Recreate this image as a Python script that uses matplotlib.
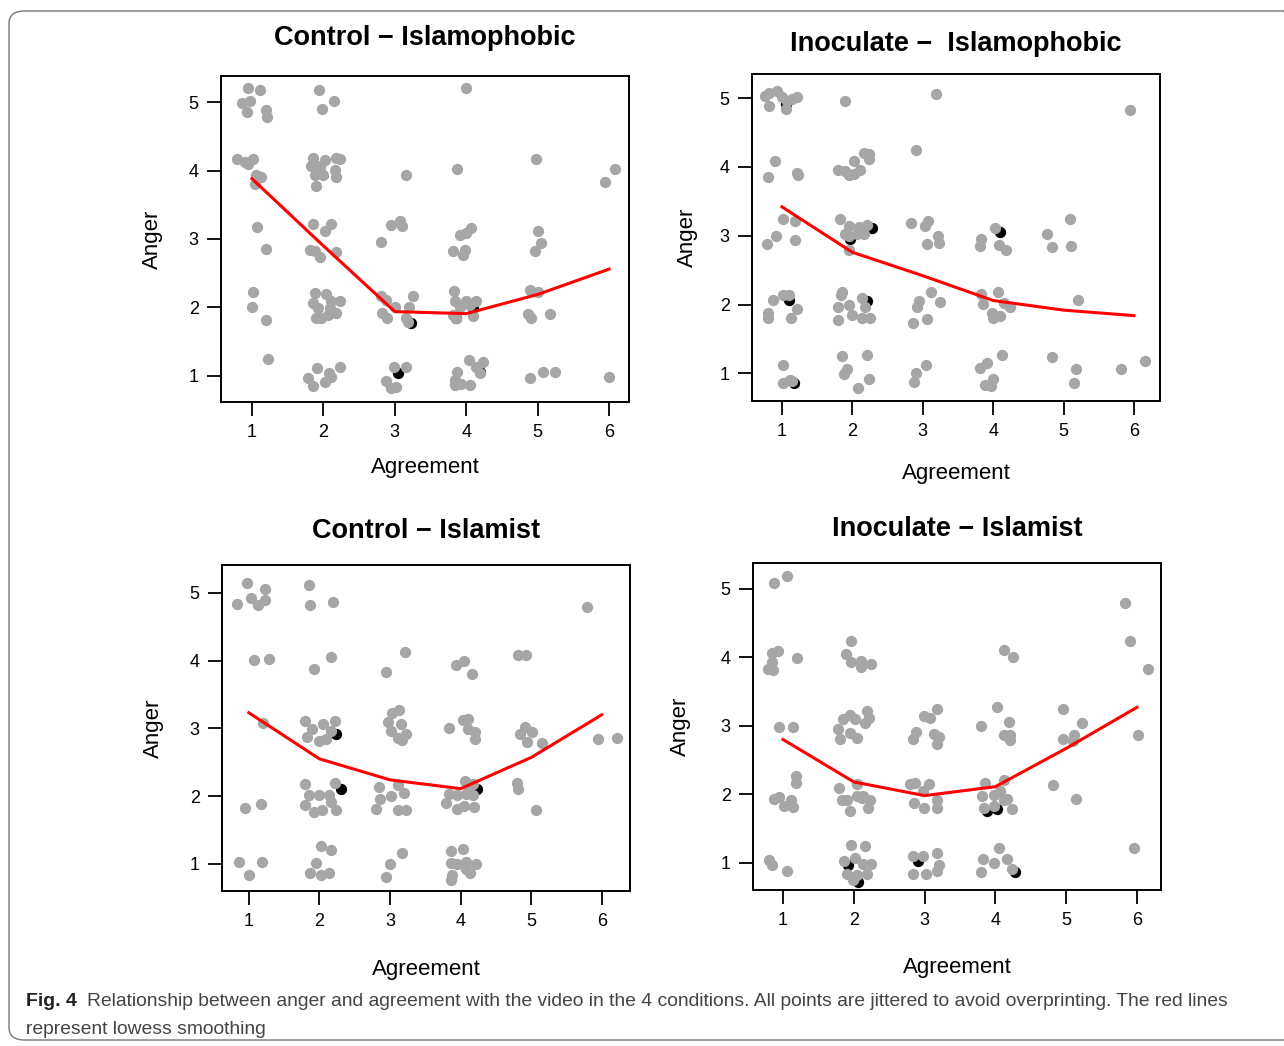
import matplotlib
matplotlib.use("Agg")
import matplotlib.pyplot as plt
from matplotlib.patches import FancyBboxPatch

plt.rcParams['font.family'] = ['Liberation Sans', 'DejaVu Sans']

W, H = 1284, 1046

levels = [1, 2, 3, 4, 5, 6]

# Control - Islamophobic
p1_x = [0.944, 1.117, 0.865, 0.967, 0.935, 1.19, 1.215, 0.79, 0.897, 1.014, 0.944, 1.06, 1.13, 1.04,
        1.075, 1.20, 1.02, 1.0, 1.19, 1.22,
        1.934, 2.144, 1.98, 1.854, 2.018, 2.18, 2.228, 1.83, 1.948, 1.878, 1.994, 2.158, 2.18, 1.89, 1.95,
        1.854, 2.11, 2.018, 1.81, 1.878, 1.948, 2.17,
        1.878, 2.04, 1.854, 2.11, 2.228, 1.924, 2.088, 1.90, 1.97, 2.064, 2.18,
        1.91, 2.08, 2.228, 1.784, 1.854, 2.018, 2.11,
        3.152, 2.95, 3.07, 3.10, 2.80, 2.81, 2.88, 3.0, 3.255, 3.20, 2.825, 2.89, 3.16, 3.185,
        2.985, 3.16, 2.87, 2.94, 3.02,
        4.0, 3.876, 3.91, 4.0, 4.07, 3.815, 3.98, 3.955, 3.83, 3.84, 4.0, 4.14, 3.91, 3.815, 3.86,
        4.095, 4.05, 4.04, 4.235, 4.14, 3.876, 4.19, 3.84, 3.93, 4.05, 3.84,
        4.98, 5.0, 5.05, 4.96, 4.89, 5.0, 4.865, 4.91, 5.18, 4.90, 5.075, 5.25,
        6.08, 5.94, 6.0]
p1_y = [5.20, 5.18, 4.985, 5.01, 4.85, 4.88, 4.78, 4.17, 4.13, 4.17, 4.10, 3.94, 3.91, 3.80,
        3.18, 2.85, 2.22, 2.01, 1.81, 1.25,
        5.18, 5.02, 4.90, 4.18, 4.16, 4.18, 4.17, 4.06, 4.06, 3.94, 3.94, 4.01, 3.90, 3.78, 4.01,
        3.22, 3.22, 3.11, 2.84, 2.82, 2.74, 2.81,
        2.21, 2.20, 2.07, 2.09, 2.10, 1.99, 1.99, 1.85, 1.85, 1.89, 1.92,
        1.11, 1.05, 1.13, 0.965, 0.853, 0.916, 0.98,
        3.93, 3.21, 3.26, 3.19, 2.96, 2.17, 2.11, 2.0, 2.17, 2.01, 1.92, 1.84, 1.84, 1.79,
        1.135, 1.135, 0.93, 0.83, 0.84,
        5.21, 4.02, 3.06, 3.085, 3.16, 2.83, 2.84, 2.77, 2.24, 2.09, 2.09, 2.09, 2.0, 1.89, 1.85,
        1.87, 2.04, 1.23, 1.21, 1.13, 1.06, 1.04, 0.94, 0.89, 0.87, 0.87,
        4.17, 3.11, 2.94, 2.83, 2.25, 2.23, 1.91, 1.84, 1.90, 0.965, 1.06, 1.06,
        4.02, 3.83, 0.99]
p1_bx = [3.22, 3.05, 4.095, 3.86, 4.19]
p1_by = [1.77, 1.05, 1.99, 1.85, 1.06]
p1_fit = [3.88, 2.90, 1.94, 1.91, 2.19, 2.56]

# Inoculate - Islamophobic
p2_x = [0.81, 0.93, 0.76, 1.0, 1.07, 1.21, 1.14, 0.82, 1.06,
        0.905, 0.80, 1.21, 1.23, 1.02, 1.19, 0.92, 1.18, 0.79,
        1.01, 1.095, 0.87, 1.22, 0.80, 0.80, 1.13, 1.01, 1.12, 1.02, 1.14,
        1.89, 1.80, 1.90, 1.95, 2.03, 2.11, 2.03, 2.16, 2.23, 2.24,
        1.83, 1.95, 2.09, 2.21, 1.90, 1.95, 2.06, 2.16, 1.95,
        1.85, 1.84, 1.795, 1.95, 2.135, 2.18, 1.99, 2.135, 2.25, 1.795,
        1.85, 2.21, 1.93, 1.875, 2.24, 2.08,
        3.185, 2.91, 2.83, 3.03, 3.08, 3.21, 3.23, 3.06, 3.12, 2.95, 2.915, 3.24, 3.06, 2.86,
        3.05, 2.91, 2.88,
        3.83, 3.81, 4.03, 4.08, 4.18, 3.83, 4.065, 3.86, 4.16, 4.24, 3.98, 4.03, 4.10, 4.0,
        4.12, 3.91, 3.815, 4.0, 3.88, 3.97,
        4.77, 5.09, 4.84, 5.105, 5.21, 4.84, 5.17, 5.15,
        5.95, 5.81, 6.15]
p2_y = [5.08, 5.10, 5.03, 5.01, 4.96, 5.02, 4.99, 4.88, 4.84,
        4.09, 3.86, 3.91, 3.88, 3.24, 3.21, 3.0, 2.94, 2.88,
        2.14, 2.14, 2.06, 1.93, 1.88, 1.80, 1.80, 1.13, 0.91, 0.855, 0.89,
        4.96, 3.95, 3.94, 3.88, 3.90, 3.96, 4.08, 4.20, 4.19, 4.11,
        3.24, 3.14, 3.13, 3.16, 3.03, 3.0, 3.03, 3.03, 2.80,
        2.19, 2.14, 1.96, 2.0, 2.10, 1.97, 1.85, 1.80, 1.81, 1.77,
        1.26, 1.27, 1.06, 0.99, 0.92, 0.79,
        5.06, 4.25, 3.18, 3.14, 3.21, 3.0, 2.89, 2.875, 2.18, 2.05, 1.96, 2.04, 1.79, 1.73,
        1.13, 1.0, 0.875,
        2.95, 2.85, 3.11, 2.865, 2.79, 2.15, 2.18, 2.01, 2.03, 1.96, 1.88, 1.83, 1.84, 1.80,
        1.265, 1.155, 1.08, 0.92, 0.83, 0.82,
        3.02, 3.24, 2.84, 2.855, 2.07, 1.24, 1.07, 0.86,
        4.82, 1.06, 1.18]
p2_bx = [1.06, 1.095, 1.165, 1.97, 2.28, 2.21, 4.10]
p2_by = [4.92, 2.07, 0.855, 2.95, 3.11, 2.05, 3.06]
p2_fit = [3.42, 2.76, 2.42, 2.06, 1.92, 1.84]

# Control - Islamist
p3_x = [0.976, 1.236, 1.033, 1.236, 0.835, 1.127, 1.08, 1.283, 1.203, 1.175, 0.943,
        0.858, 1.19, 1.0,
        1.85, 1.86, 2.19, 1.925, 2.17, 1.80, 2.05, 2.22, 1.83, 1.90, 2.09, 2.16, 1.99,
        1.79, 2.22, 1.85, 1.99, 2.13, 1.79, 1.92, 2.04, 2.23, 2.16,
        2.02, 2.17, 1.95, 1.87, 2.02, 2.13,
        3.21, 2.945, 3.03, 3.13, 2.97, 3.16, 3.01, 3.23, 3.12, 3.17,
        2.84, 3.11, 2.855, 3.02, 3.195, 2.80, 3.12, 3.23, 3.17, 3.0, 2.94,
        3.94, 4.055, 4.16, 3.84, 4.03, 4.11, 4.11, 4.21, 4.21,
        4.06, 4.18, 3.84, 3.95, 4.07, 4.17, 3.80, 3.95, 4.045, 4.19, 4.12,
        3.86, 4.03, 3.87, 3.95, 4.07, 4.22, 4.14, 3.88, 3.86, 4.07,
        4.82, 4.92, 4.91, 5.01, 4.84, 4.94, 5.15, 4.80, 4.82, 5.07,
        5.79, 5.95, 6.21]
p3_y = [5.15, 5.06, 4.92, 4.90, 4.84, 4.82, 4.01, 4.03, 3.08, 1.88, 1.82,
        1.03, 1.03, 0.83,
        5.11, 4.82, 4.86, 3.875, 4.05, 3.11, 3.06, 3.11, 2.87, 2.99, 2.84, 2.96, 2.81,
        2.18, 2.20, 2.01, 2.01, 2.02, 1.87, 1.76, 1.80, 1.80, 1.91,
        1.27, 1.21, 1.02, 0.87, 0.83, 0.87,
        4.12, 3.83, 3.23, 3.27, 3.10, 3.07, 2.96, 2.91, 2.86, 2.83,
        2.13, 2.17, 1.96, 2.0, 2.05, 1.81, 1.79, 1.80, 1.16, 1.005, 0.81,
        3.94, 3.99, 3.80, 3.0, 3.13, 3.14, 2.99, 2.94, 2.84,
        2.22, 2.18, 2.03, 2.01, 2.03, 2.01, 1.90, 1.81, 1.86, 1.84, 2.11,
        1.19, 1.225, 1.01, 1.0, 1.03, 1.0, 0.86, 0.83, 0.76, 0.93,
        4.085, 4.075, 3.02, 2.94, 2.91, 2.80, 2.79, 2.20, 2.10, 1.80,
        4.785, 2.85, 2.86]
p3_bx = [2.23, 2.30, 4.23]
p3_by = [2.91, 2.10, 2.11]
p3_fit = [3.23, 2.55, 2.24, 2.11, 2.57, 3.20]

# Inoculate - Islamist
p4_x = [0.87, 1.06, 0.85, 0.93, 0.85, 0.79, 0.86, 1.20, 0.94, 1.14,
        1.19, 1.18, 0.87, 0.94, 1.01, 1.14, 1.11, 0.80, 0.85, 1.06,
        1.955, 1.885, 1.955, 2.095, 2.095, 2.24,
        1.85, 1.94, 2.01, 2.18, 2.22, 2.16, 1.77, 1.81, 1.945, 2.05,
        1.79, 2.04, 1.83, 1.91, 2.04, 2.13, 2.23, 1.945, 2.205, 2.11,
        1.955, 2.16, 1.86, 2.02, 2.24, 2.125, 1.90, 2.04, 2.19, 1.99,
        3.17, 2.985, 3.08, 2.88, 2.84, 3.13, 3.20, 3.18,
        2.79, 2.87, 3.06, 2.975, 3.17, 2.85, 2.985, 3.17,
        2.83, 2.975, 3.18, 3.20, 3.17, 2.83, 3.02,
        4.02, 3.80, 4.19, 4.12, 4.21, 4.20, 4.12, 4.25,
        3.86, 4.12, 3.81, 3.98, 4.07, 4.12, 3.835, 3.98, 4.17, 4.24,
        4.05, 3.82, 3.98, 4.16, 3.79, 4.24,
        4.96, 5.23, 4.95, 5.11, 5.09, 4.82, 5.14,
        5.83, 5.905, 6.16, 6.01, 5.96]
p4_y = [5.09, 5.195, 4.07, 4.10, 3.93, 3.83, 3.82, 3.99, 2.98, 2.98,
        2.26, 2.16, 1.93, 1.965, 1.83, 1.82, 1.91, 1.04, 0.97, 0.88,
        4.245, 4.05, 3.93, 3.95, 3.86, 3.90,
        3.10, 3.16, 3.10, 3.22, 3.12, 3.04, 2.95, 2.81, 2.90, 2.82,
        2.09, 2.15, 1.91, 1.915, 1.98, 1.98, 1.915, 1.75, 1.80, 1.95,
        1.26, 1.25, 1.03, 1.07, 0.98, 0.98, 0.83, 0.825, 0.83, 0.74,
        3.25, 3.15, 3.12, 2.905, 2.81, 2.88, 2.84, 2.74,
        2.15, 2.16, 2.15, 2.05, 1.91, 1.87, 1.80, 1.80,
        1.10, 1.10, 1.135, 0.97, 0.88, 0.83, 0.83,
        3.27, 2.99, 3.06, 2.86, 2.87, 2.79, 4.11, 4.01,
        2.17, 2.21, 1.98, 1.99, 2.05, 1.91, 1.80, 1.83, 1.93, 1.79,
        1.21, 1.05, 1.0, 1.05, 0.86, 0.90,
        3.25, 3.04, 2.80, 2.87, 2.78, 2.135, 1.93,
        4.80, 4.245, 3.83, 2.87, 1.21]
p4_bx = [1.92, 2.06, 2.90, 3.88, 4.02, 4.28]
p4_by = [0.96, 0.71, 1.03, 1.76, 1.78, 0.86]
p4_fit = [2.80, 2.18, 1.98, 2.11, 2.67, 3.27]

titles = ['Control \u2212 Islamophobic', 'Inoculate \u2212  Islamophobic',
          'Control \u2212 Islamist', 'Inoculate \u2212 Islamist']

panels = [
    # pixel box (left, top, right, bottom), xlim, ylim, title y, xlabel y, ylabel x
    dict(x=p1_x, y=p1_y, bx=p1_bx, by=p1_by, fit=p1_fit, box=(221, 76, 629, 402),
         xlim=(0.566, 6.28), ylim=(0.62, 5.38), ty=38, xly=468, ylx=152),
    dict(x=p2_x, y=p2_y, bx=p2_bx, by=p2_by, fit=p2_fit, box=(752, 74, 1160, 401),
         xlim=(0.574, 6.37), ylim=(0.60, 5.35), ty=44, xly=473, ylx=687),
    dict(x=p3_x, y=p3_y, bx=p3_bx, by=p3_by, fit=p3_fit, box=(222, 565, 630, 891),
         xlim=(0.62, 6.40), ylim=(0.60, 5.41), ty=531, xly=970, ylx=153),
    dict(x=p4_x, y=p4_y, bx=p4_bx, by=p4_by, fit=p4_fit, box=(753, 563, 1161, 890),
         xlim=(0.576, 6.34), ylim=(0.60, 5.38), ty=529, xly=968, ylx=680),
]

fig = plt.figure(figsize=(W / 100, H / 100), dpi=100)

# rounded frame around the figure
frame = FancyBboxPatch((9 / W, 1 - 1040 / H), 1290 / W, 1029 / H,
                       boxstyle='round,pad=0,rounding_size=0.012',
                       transform=fig.transFigure, fill=False,
                       edgecolor='#777777', linewidth=1.0, clip_on=False)
fig.patches.append(frame)

for p, title in zip(panels, titles):
    l, t, r, b = p['box']
    ax = fig.add_axes([l / W, 1 - b / H, (r - l) / W, (b - t) / H])
    ax.scatter(p['bx'], p['by'], s=66, color='black', linewidths=0, zorder=2)
    ax.scatter(p['x'], p['y'], s=66, color='#a6a6a6', linewidths=0, zorder=3)
    ax.plot(levels, p['fit'], color='red', linewidth=2.2, zorder=4)
    ax.set_xlim(*p['xlim'])
    ax.set_ylim(*p['ylim'])
    ax.set_xticks(levels)
    ax.set_yticks([1, 2, 3, 4, 5])
    ax.tick_params(direction='out', length=10, width=1.3, labelsize=13, pad=6)
    for s in ax.spines.values():
        s.set_linewidth(1.4)
    cx = (l + r) / 2
    fig.text(cx / W, 1 - p['ty'] / H, title, ha='center', va='center',
             fontsize=19.5, fontweight='bold')
    fig.text(cx / W, 1 - p['xly'] / H, 'Agreement', ha='center', va='center', fontsize=16)
    fig.text(p['ylx'] / W, 1 - (t + b) / 2 / H, 'Anger', ha='center', va='center',
             rotation=90, fontsize=16)

fig.text(26 / W, 1 - 1001 / H, 'Fig. 4', ha='left', va='center', fontsize=14,
         fontweight='bold', color='#222222')
fig.text(87 / W, 1 - 1001 / H,
         'Relationship between anger and agreement with the video in the 4 conditions. '
         'All points are jittered to avoid overprinting. The red lines',
         ha='left', va='center', fontsize=13.9, color='#444444')
fig.text(26 / W, 1 - 1029 / H, 'represent lowess smoothing', ha='left', va='center',
         fontsize=13.9, color='#444444')

fig.savefig('out.png', dpi=100)
